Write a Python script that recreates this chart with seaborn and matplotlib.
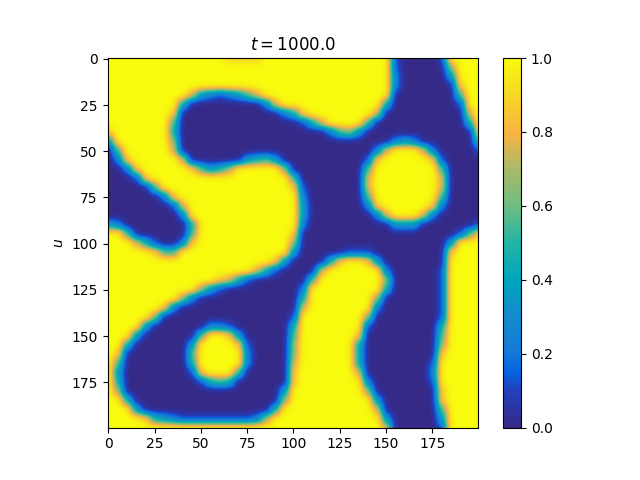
import numpy as np
import matplotlib
matplotlib.use('Agg')
import matplotlib.pyplot as plt
from matplotlib.colors import LinearSegmentedColormap
import seaborn as sns

# field, one digit per node (0 = 0.0, 9 = 1.0), nodes every 5 units
Y = '9'
D = '0'
field_rows = [
    Y*13 + '8888' + Y*14 + '1' + D*4 + '1' + Y*4,
    Y*31 + '1' + D*5 + '6' + Y*3,
    Y*31 + '2' + D*5 + '3' + Y*3,
    Y*31 + '2' + D*6 + '8' + Y*2,
    Y*9 + '73212357' + Y*14 + D*7 + '5' + Y*2,
    Y*8 + '4' + D*8 + '27' + Y*11 + '4' + D*7 + '1' + Y*2,
    Y*7 + '8' + D*11 + '248' + Y*7 + '7' + D*9 + '7' + Y,
    Y*7 + '5' + D*13 + '147' + Y*4 + '5' + D*10 + '4' + Y,
    '8' + Y*6 + '4' + D*16 + '2563' + D*12 + '8',
    '3' + Y*6 + '6' + D*23 + '232' + D*6 + '5',
    '05' + Y*5 + '7' + D*21 + '27' + Y*3 + '72' + D*4 + '1',
    '028' + Y*5 + '7' + D*6 + '3453' + D*9 + '18' + Y*5 + '81' + D*4,
    D*2 + '28' + Y*5 + '85346' + Y*5 + '6' + D*8 + '5' + Y*7 + '5' + D*4,
    D*3 + '18' + Y*15 + '5' + D*7 + '7' + Y*7 + '7' + D*4,
    D*5 + '5' + Y*14 + '81' + D*6 + '7' + Y*7 + '7' + D*4,
    D*6 + '28' + Y*13 + '2' + D*6 + '5' + Y*7 + '5' + D*4,
    D*7 + '17' + Y*12 + '3' + D*6 + '28' + Y*5 + '82' + D*4,
    D*8 + '2' + Y*12 + '3' + D*7 + '27' + Y*3 + '72' + D*5,
    '32' + D*7 + '4' + Y*11 + '2' + D*9 + '333' + D*6 + '1',
    Y*2 + '5' + D*6 + '5' + Y*10 + '8' + D*17 + '158',
    Y*3 + '741' + D*2 + '28' + Y*10 + '6' + D*16 + '3' + Y*3,
    Y*5 + '855' + Y*12 + '3' + D*5 + '111' + D*8 + '8' + Y*3,
    Y*18 + '83' + D*4 + '48' + Y*2 + '83' + D*7 + Y*4,
    Y*16 + '741' + D*4 + '7' + Y*6 + '2' + D*5 + '1' + Y*4,
    Y*12 + '8741' + D*6 + '5' + Y*7 + '6' + D*5 + '1' + Y*4,
    Y*10 + '631' + D*8 + '2' + Y*8 + '4' + D*5 + '1' + Y*4,
    Y*8 + '62' + D*11 + '4' + Y*7 + '6' + D*6 + '1' + Y*4,
    Y*6 + '82' + D*13 + '7' + Y*7 + '2' + D*6 + '1' + Y*4,
    Y*5 + '6' + D*14 + '1' + Y*7 + '6' + D*7 + '1' + Y*4,
    Y*4 + '3' + D*6 + '221' + D*6 + '4' + Y*7 + '1' + D*7 + '4' + Y*4,
    Y*3 + '3' + D*6 + '5' + Y*2 + '83' + D*5 + '5' + Y*6 + '8' + D*8 + '5' + Y*4,
    Y*2 + '4' + D*6 + '3' + Y*4 + '81' + D*4 + '6' + Y*6 + '4' + D*8 + '6' + Y*4,
    Y + '8' + D*7 + '5' + Y*5 + '2' + D*4 + '6' + Y*6 + '4' + D*8 + '8' + Y*4,
    Y + '5' + D*7 + '4' + Y*5 + '2' + D*4 + '7' + Y*6 + '4' + D*7 + '1' + Y*5,
    Y + '3' + D*7 + '18' + Y*3 + '5' + D*5 + '8' + Y*6 + '7' + D*7 + '2' + Y*5,
    Y + '4' + D*8 + '1454' + D*6 + '8' + Y*7 + '2' + D*6 + '1' + Y*5,
    Y + '6' + D*17 + '3' + Y*8 + '6' + D*7 + '8' + Y*4,
    Y*2 + '4' + D*16 + '6' + Y*9 + '3' + D*6 + '8' + Y*4,
    Y*3 + '3' + D*14 + '4' + Y*10 + '7' + D*6 + '5' + Y*4,
    Y*4 + '84321' + '1'*6 + '126' + Y*12 + '3' + D*5 + '3' + Y*4,
    Y*30 + '7' + D*5 + '1' + Y*4,
]
tick_values = [0, 25, 50, 75, 100, 125, 150, 175]
cbar_ticks = [0.0, 0.2, 0.4, 0.6, 0.8, 1.0]
title_text = '$t = 1000.0$'
ylabel_text = '$u$'

# colours
parula_like = [
    (0.00, '#352a87'), (0.10, '#2340bf'), (0.15, '#0564e1'), (0.20, '#1478d7'),
    (0.30, '#148ccd'), (0.40, '#00a5be'), (0.50, '#23b4a5'), (0.60, '#6ebe82'),
    (0.70, '#aab969'), (0.80, '#fab441'), (0.90, '#f5d723'), (1.00, '#f9fb0e'),
]
cmap = LinearSegmentedColormap.from_list('parula_like', parula_like, N=256)

field = np.array([[int(c) / 9 for c in row] for row in field_rows])

fig = plt.figure(figsize=(6.4, 4.8), dpi=100)
ax = fig.add_axes([107.5 / 640, 1 - 427.5 / 480, 370 / 640, 369.5 / 480])
cax = fig.add_axes([502.7 / 640, 1 - 427.5 / 480, 18.3 / 640, 369.5 / 480])

sns.heatmap(field, ax=ax, cbar_ax=cax, cmap=cmap, vmin=0, vmax=1,
            xticklabels=False, yticklabels=False, shading='gouraud')

# same cells shown again with smooth display interpolation, the mesh alone looks blocky
ax.imshow(field, cmap=cmap, vmin=0, vmax=1, aspect='auto', interpolation='gaussian',
          interpolation_stage='data', extent=(-0.5, 40.5, 40.5, -0.5), zorder=2)

# nodes sit at index = value / 5, the image edge is half a unit further out
ax.set_xlim(-0.1, 39.9)
ax.set_ylim(39.9, -0.1)
ax.set_xticks([t / 5 for t in tick_values])
ax.set_xticklabels([str(t) for t in tick_values], rotation=0)
ax.set_yticks([t / 5 for t in tick_values])
ax.set_yticklabels([str(t) for t in tick_values], rotation=0)
ax.tick_params(length=3.5, width=0.8, labelsize=10)
for spine in ax.spines.values():
    spine.set_visible(True)
    spine.set_linewidth(0.8)
ax.set_title(title_text, fontsize=12)
ax.set_ylabel(ylabel_text, fontsize=10)

cb = ax.collections[0].colorbar
cb.set_ticks(cbar_ticks)
cb.ax.tick_params(length=3.5, width=0.8, labelsize=10)
cb.outline.set_visible(True)
cb.outline.set_linewidth(0.8)

fig.savefig('out.png', dpi=100)
